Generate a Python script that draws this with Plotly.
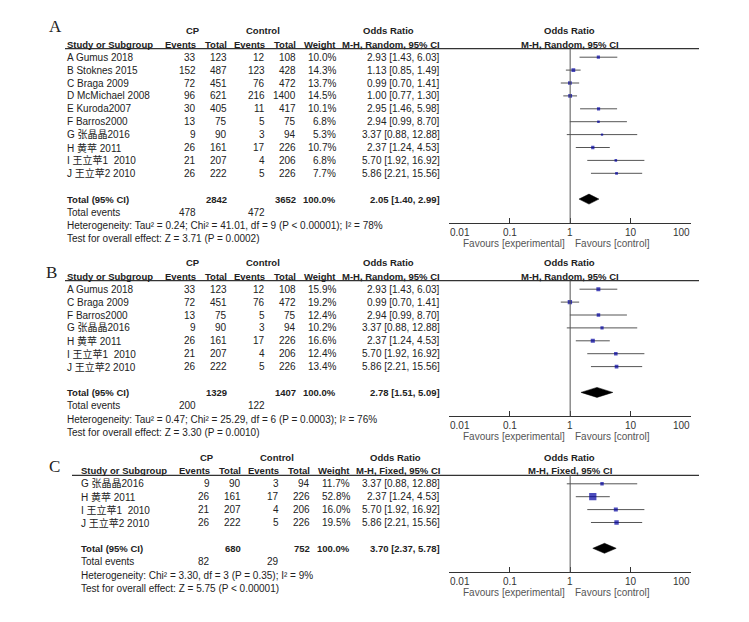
import math
import plotly.graph_objects as go

W, H = 749, 622

# ---------------- data: panel A ----------------
studies_A = ["A Gumus 2018", "B Stoknes 2015", "C Braga 2009", "D McMichael 2008", "E Kuroda2007",
             "F Barros2000", "G 张晶晶2016", "H 黄苹 2011", "I 王立苹1  2010", "J 王立苹2 2010"]
cp_events_A = [33, 152, 72, 96, 30, 13, 9, 26, 21, 26]
cp_total_A = [123, 487, 451, 621, 405, 75, 90, 161, 207, 222]
ctrl_events_A = [12, 123, 76, 216, 11, 5, 3, 17, 4, 5]
ctrl_total_A = [108, 428, 472, 1400, 417, 75, 94, 226, 206, 226]
weight_A = [10.0, 14.3, 13.7, 14.5, 10.1, 6.8, 5.3, 10.7, 6.8, 7.7]
or_A = [2.93, 1.13, 0.99, 1.00, 2.95, 2.94, 3.37, 2.37, 5.70, 5.86]
lo_A = [1.43, 0.85, 0.70, 0.77, 1.46, 0.99, 0.88, 1.24, 1.92, 2.21]
hi_A = [6.03, 1.49, 1.41, 1.30, 5.98, 8.70, 12.88, 4.53, 16.92, 15.56]
total_A = dict(cp_total=2842, ctrl_total=3652, cp_events=478, ctrl_events=472, est=2.05, lo=1.40, hi=2.99)
het_A = "Heterogeneity: Tau² = 0.24; Chi² = 41.01, df = 9 (P < 0.00001); I² = 78%"
test_A = "Test for overall effect: Z = 3.71 (P = 0.0002)"

# ---------------- data: panel B ----------------
studies_B = ["A Gumus 2018", "C Braga 2009", "F Barros2000", "G 张晶晶2016", "H 黄苹 2011",
             "I 王立苹1  2010", "J 王立苹2 2010"]
cp_events_B = [33, 72, 13, 9, 26, 21, 26]
cp_total_B = [123, 451, 75, 90, 161, 207, 222]
ctrl_events_B = [12, 76, 5, 3, 17, 4, 5]
ctrl_total_B = [108, 472, 75, 94, 226, 206, 226]
weight_B = [15.9, 19.2, 12.4, 10.2, 16.6, 12.4, 13.4]
or_B = [2.93, 0.99, 2.94, 3.37, 2.37, 5.70, 5.86]
lo_B = [1.43, 0.70, 0.99, 0.88, 1.24, 1.92, 2.21]
hi_B = [6.03, 1.41, 8.70, 12.88, 4.53, 16.92, 15.56]
total_B = dict(cp_total=1329, ctrl_total=1407, cp_events=200, ctrl_events=122, est=2.78, lo=1.51, hi=5.09)
het_B = "Heterogeneity: Tau² = 0.47; Chi² = 25.29, df = 6 (P = 0.0003); I² = 76%"
test_B = "Test for overall effect: Z = 3.30 (P = 0.0010)"

# ---------------- data: panel C ----------------
studies_C = ["G 张晶晶2016", "H 黄苹 2011", "I 王立苹1  2010", "J 王立苹2 2010"]
cp_events_C = [9, 26, 21, 26]
cp_total_C = [90, 161, 207, 222]
ctrl_events_C = [3, 17, 4, 5]
ctrl_total_C = [94, 226, 206, 226]
weight_C = [11.7, 52.8, 16.0, 19.5]
or_C = [3.37, 2.37, 5.70, 5.86]
lo_C = [0.88, 1.24, 1.92, 2.21]
hi_C = [12.88, 4.53, 16.92, 15.56]
total_C = dict(cp_total=680, ctrl_total=752, cp_events=82, ctrl_events=29, est=3.70, lo=2.37, hi=5.78)
het_C = "Heterogeneity: Chi² = 3.30, df = 3 (P = 0.35); I² = 9%"
test_C = "Test for overall effect: Z = 5.75 (P < 0.00001)"

tick_vals = [0.01, 0.1, 1, 10, 100]
tick_text = ["0.01", "0.1", "1", "10", "100"]

# ---------------- layout settings ----------------
panels = [
    dict(letter="A", method="M-H, Random, 95% CI", top=30.7, dx=0, letter_xy=(55, 26.7), orh_x=388,
         studies=studies_A, cpe=cp_events_A, cpt=cp_total_A, cte=ctrl_events_A, ctt=ctrl_total_A,
         w=weight_A, est=or_A, lo=lo_A, hi=hi_A, tot=total_A, het=het_A, test=test_A),
    dict(letter="B", method="M-H, Random, 95% CI", top=262.7, dx=0, letter_xy=(51, 272), orh_x=388,
         studies=studies_B, cpe=cp_events_B, cpt=cp_total_B, cte=ctrl_events_B, ctt=ctrl_total_B,
         w=weight_B, est=or_B, lo=lo_B, hi=hi_B, tot=total_B, het=het_B, test=test_B),
    dict(letter="C", method="M-H, Fixed, 95% CI", top=457.3, dx=14, letter_xy=(54, 466), orh_x=395,
         studies=studies_C, cpe=cp_events_C, cpt=cp_total_C, cte=ctrl_events_C, ctt=ctrl_total_C,
         w=weight_C, est=or_C, lo=lo_C, hi=hi_C, tot=total_C, het=het_C, test=test_C),
]

FONT = "Liberation Sans, Arial, Noto Sans CJK SC, sans-serif"
TXT = "#222222"
FS = 10
FSB = 9.5
STEP = 12.9
X0_PIX, X1_PIX = 449.3, 691.0
LINE_RIGHT = 699

fig = go.Figure()
annotations = []
shapes = []


def txt(x, y, s, anchor="left", bold=False, size=None, color=TXT, xref="x", family=FONT):
    annotations.append(dict(
        x=x, y=y, xref=xref, yref="y", text=(f"<b>{s}</b>" if bold else s), showarrow=False,
        xanchor=anchor, yanchor="middle", borderpad=0,
        font=dict(family=family, size=size or (FSB if bold else FS), color=color)))


layout_axes = {}
for i, p in enumerate(panels):
    k = i + 2
    xa, ya = f"x{k}", f"y{k}"
    dx = p["dx"]
    top = p["top"]
    hdr2 = top + 13.5
    line_y = top + 18
    row0 = top + 26.5
    n = len(p["studies"])
    rows = [row0 + j * STEP for j in range(n)]
    tot_y = row0 + (n + 1) * STEP
    ev_y = tot_y + 13.5
    het_y = ev_y + 13.3
    test_y = het_y + 13.0
    axis_y = tot_y + 24

    # columns
    c_study = 66 + dx
    c_cpe, c_cpt = 196.7 + dx, 227.7 + dx
    c_cte, c_ctt = 266 + dx, 297.3 + dx
    c_w = 336.7 + dx
    c_or = 440.7

    # letter
    txt(p["letter_xy"][0], p["letter_xy"][1], p["letter"], anchor="center", size=17,
        family="Liberation Serif, Times New Roman, serif", color="#222")

    # headers
    txt(192.5 + dx, top, "CP", "center", bold=True)
    txt(263 + dx, top, "Control", "center", bold=True)
    txt(p["orh_x"], top, "Odds Ratio", "center", bold=True)
    txt(569.5, top, "Odds Ratio", "center", bold=True)
    txt(c_study, hdr2, "Study or Subgroup", "left", bold=True)
    txt(c_cpe, hdr2, "Events", "right", bold=True)
    txt(c_cpt, hdr2, "Total", "right", bold=True)
    txt(c_cte, hdr2, "Events", "right", bold=True)
    txt(c_ctt, hdr2, "Total", "right", bold=True)
    txt(c_w, hdr2, "Weight", "right", bold=True)
    txt(c_or, hdr2, p["method"], "right", bold=True)
    txt(569.5, hdr2, p["method"], "center", bold=True)

    shapes.append(dict(type="line", xref="x", yref="y", x0=66 + dx - 1 - (0 if dx == 0 else 7), x1=LINE_RIGHT,
                       y0=line_y, y1=line_y, line=dict(color="#333", width=1.3)))

    # study rows
    for j in range(n):
        y = rows[j]
        txt(c_study, y, p["studies"][j], "left")
        txt(c_cpe, y, str(p["cpe"][j]), "right")
        txt(c_cpt, y, str(p["cpt"][j]), "right")
        txt(c_cte, y, str(p["cte"][j]), "right")
        txt(c_ctt, y, str(p["ctt"][j]), "right")
        txt(c_w, y, f"{p['w'][j]:.1f}%", "right")
        txt(c_or, y, f"{p['est'][j]:.2f} [{p['lo'][j]:.2f}, {p['hi'][j]:.2f}]", "right")

    t = p["tot"]
    txt(c_study, tot_y, "Total (95% CI)", "left", bold=True)
    txt(c_cpt, tot_y, str(t["cp_total"]), "right", bold=True)
    txt(c_ctt, tot_y, str(t["ctrl_total"]), "right", bold=True)
    txt(c_w, tot_y, "100.0%", "right", bold=True)
    txt(c_or, tot_y, f"{t['est']:.2f} [{t['lo']:.2f}, {t['hi']:.2f}]", "right", bold=True)
    txt(c_study, ev_y, "Total events", "left")
    txt(c_cpe, ev_y, str(t["cp_events"]), "right")
    txt(c_cte, ev_y, str(t["ctrl_events"]), "right")
    txt(c_study, het_y, p["het"], "left")
    txt(c_study, test_y, p["test"], "left")

    # forest: CI lines
    xs, ys = [], []
    for j in range(n):
        xs += [p["lo"][j], p["hi"][j], None]
        ys += [rows[j], rows[j], None]
    fig.add_trace(go.Scatter(x=xs, y=ys, xaxis=xa, yaxis=ya, mode="lines",
                             line=dict(color="#555", width=1), hoverinfo="skip", showlegend=False))
    fig.add_trace(go.Scatter(x=p["est"], y=rows, xaxis=xa, yaxis=ya, mode="markers",
                             marker=dict(symbol="square", color="#0000a0",
                                         size=[max(2.2, math.sqrt(w) * 1.0) for w in p["w"]],
                                         line=dict(width=0)),
                             hoverinfo="skip", showlegend=False))
    # diamond
    fig.add_trace(go.Scatter(x=[t["lo"], t["est"], t["hi"], t["est"], t["lo"]],
                             y=[tot_y, tot_y - 5, tot_y, tot_y + 5, tot_y],
                             xaxis=xa, yaxis=ya, mode="lines", fill="toself", fillcolor="black",
                             line=dict(color="black", width=0.5), hoverinfo="skip", showlegend=False))
    # line of no effect
    shapes.append(dict(type="line", xref=xa, yref=f"{ya} domain", x0=1, x1=1, y0=0, y1=1,
                       line=dict(color="#555", width=1)))

    # tick labels and favours labels
    anchors = ["left", "center", "center", "center", "right"]
    for v, s, a in zip(tick_vals, tick_text, anchors):
        txt(math.log10(v), axis_y + 9, s, a, xref=xa, color="#333")
    txt(0, axis_y + 20, "Favours [experimental]", "right", xref=xa, color="#555")
    txt(0, axis_y + 20, "Favours [control]", "left", xref=xa, color="#555")
    annotations[-2]["xshift"] = -4
    annotations[-1]["xshift"] = 4

    layout_axes[f"xaxis{k}"] = dict(type="log", range=[-2, 2], domain=[X0_PIX / W, X1_PIX / W],
                                    anchor=ya, showline=True, linecolor="#333", linewidth=1,
                                    ticks="inside", ticklen=5, tickcolor="#333", tickwidth=1,
                                    tickvals=tick_vals, showticklabels=False, showgrid=False,
                                    zeroline=False, fixedrange=True)
    layout_axes[f"yaxis{k}"] = dict(domain=[1 - axis_y / H, 1 - line_y / H], range=[axis_y, line_y],
                                    visible=False, fixedrange=True, anchor=xa)

fig.update_layout(
    width=W, height=H, margin=dict(l=0, r=0, t=0, b=0, pad=0),
    paper_bgcolor="white", plot_bgcolor="rgba(0,0,0,0)",
    xaxis=dict(range=[0, W], domain=[0, 1], visible=False, fixedrange=True),
    yaxis=dict(range=[H, 0], domain=[0, 1], visible=False, fixedrange=True),
    annotations=annotations, shapes=shapes, showlegend=False, hovermode=False,
    **layout_axes,
)

fig.write_html("out.html", config={"displayModeBar": False, "staticPlot": True},
               post_script="document.body.style.margin='0';document.body.style.overflow='hidden';")
